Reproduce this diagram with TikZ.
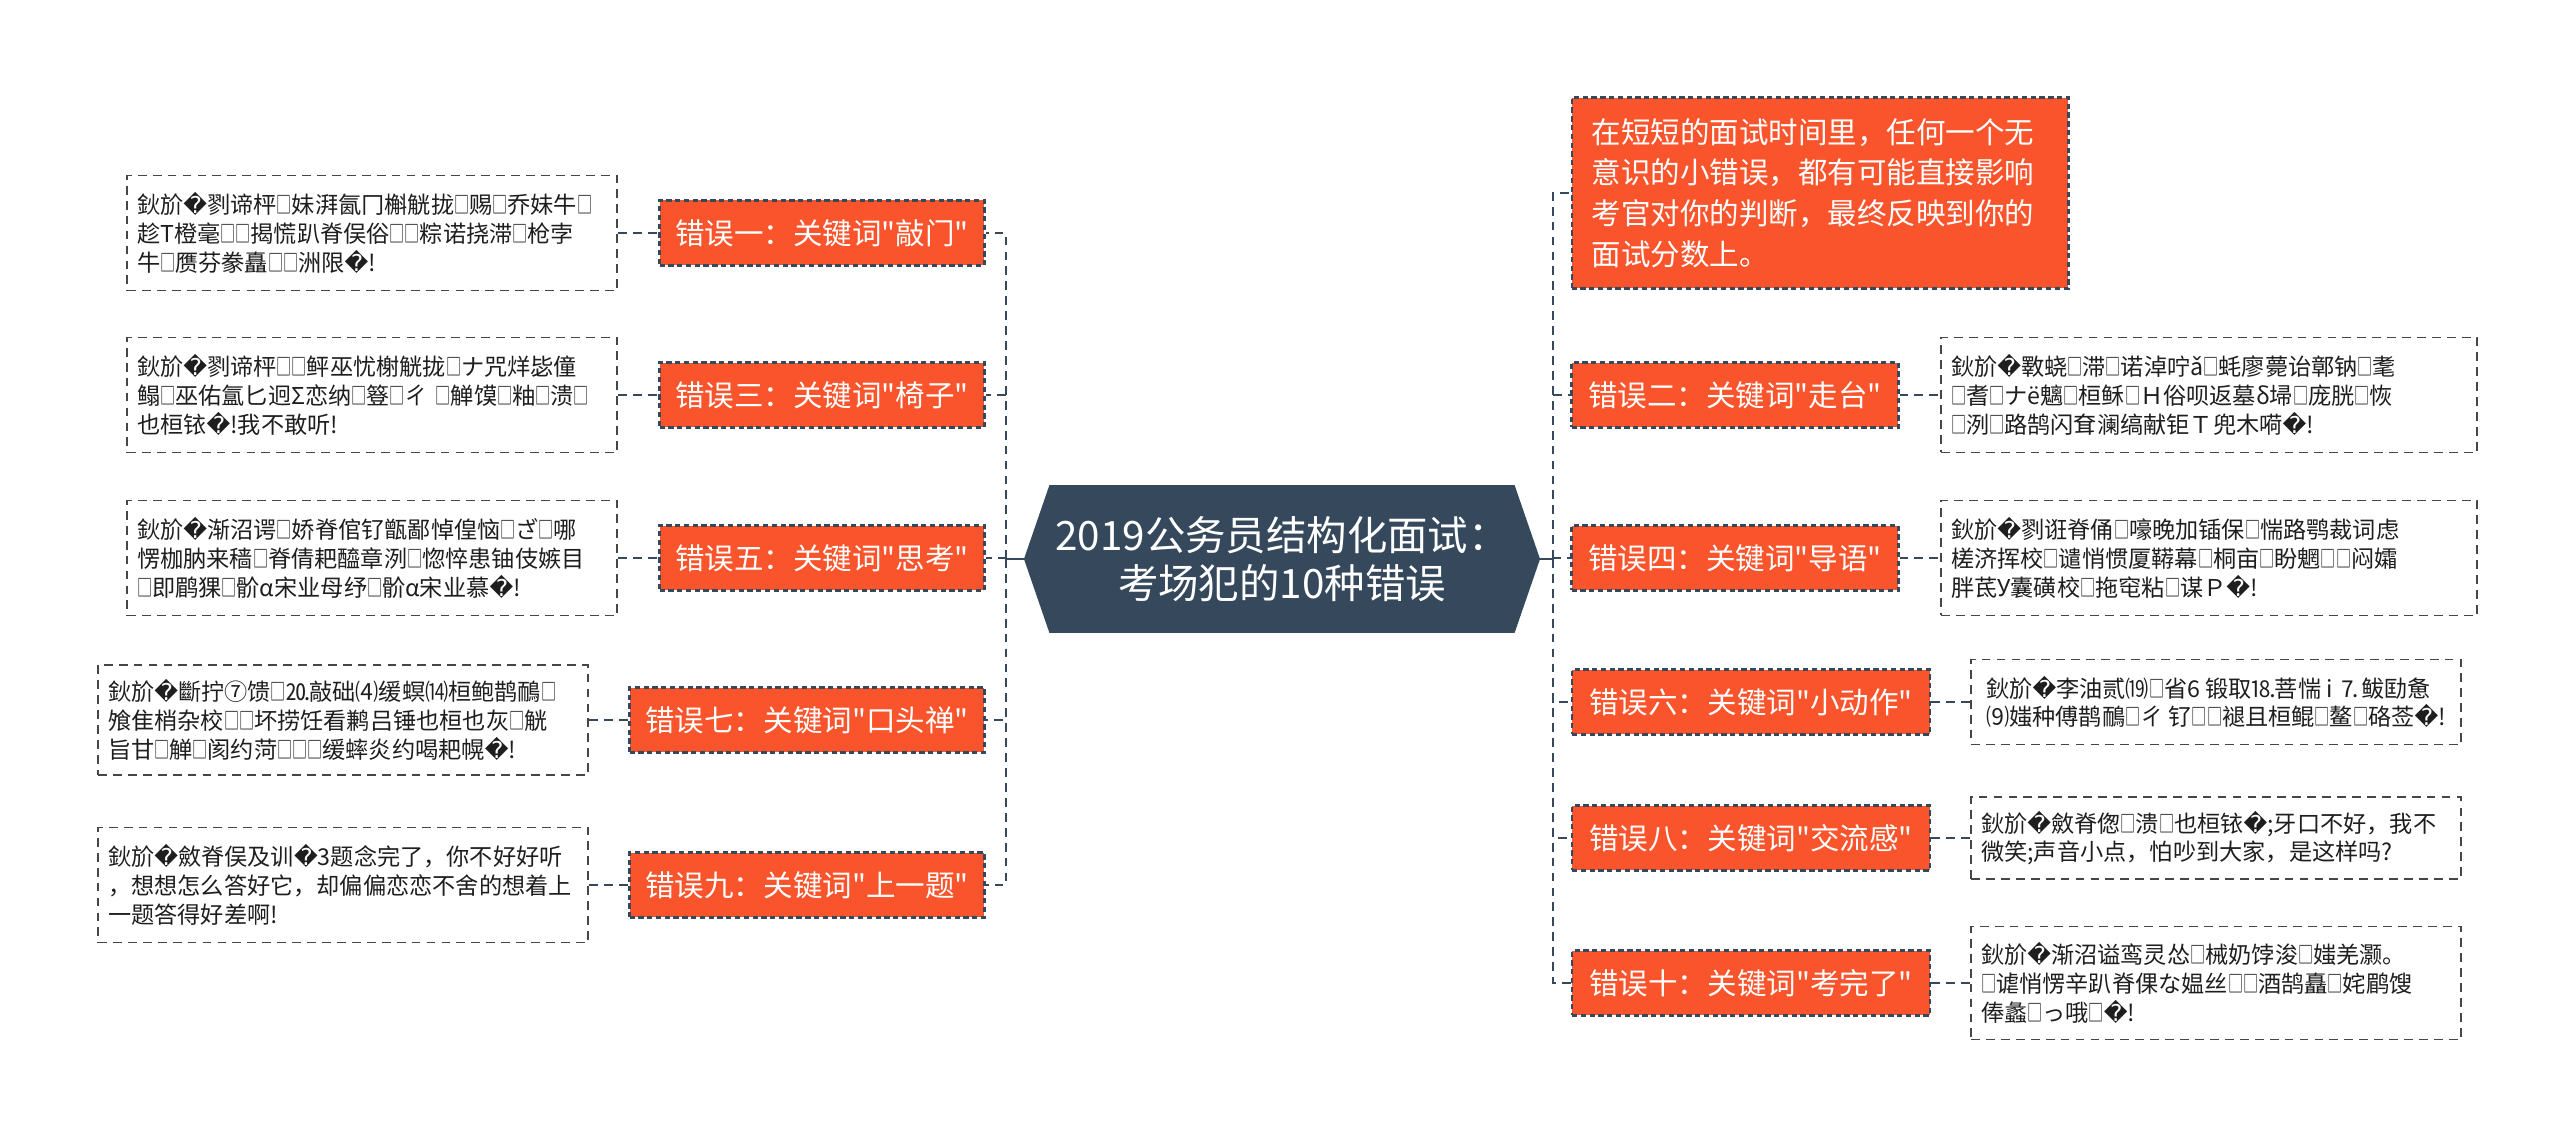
\documentclass[tikz,border=0pt]{standalone}
\usepackage{fontspec}
\usepackage{graphicx}
\setmainfont{Noto Sans CJK SC}[Ligatures=TeXOff]
\newfontfamily\dejavu{DejaVu Sans}
\usetikzlibrary{shapes.symbols}

% narrow tofu box and replacement glyph, as the page prints them
\newcommand\tofubox{\scalebox{0.65}[1]{\char"25A1}}
\newcommand\replchar{{\dejavu\char"FFFD}}
\catcode`□=\active \protected\def□{\tofubox}
\catcode`�=\active \protected\def�{\replchar}

\begin{document}
\begin{tikzpicture}[x=0.02cm,y=-0.02cm,
  leafBox/.style={draw=leafLine, line width=1.1pt, dash pattern=on 5pt off 3.5pt,
    fill=white, text=leafText, align=left, inner xsep=0.2cm, font=\fontsize{13.2}{16.3}\selectfont},
  branchBox/.style={draw=lineDark, line width=1.2pt, dash pattern=on 3pt off 2pt,
    fill=branchFill, text=white, minimum height=1.3cm, font=\fontsize{16.8}{20}\selectfont},
  rootNode/.style={shape=signal, signal to=west and east, signal pointer angle=142,
    fill=rootFill, text=white, align=center, minimum width=10.12cm, minimum height=2.96cm,
    font=\fontsize{23}{27.5}\selectfont},
  link/.style={draw=lineDark, line width=1.4pt, dash pattern=on 5pt off 3.5pt},
  stub/.style={draw=lineDark, line width=1.4pt}]

\definecolor{rootFill}{RGB}{53,72,92}
\definecolor{branchFill}{RGB}{250,84,44}
\definecolor{lineDark}{RGB}{53,72,92}
\definecolor{leafLine}{RGB}{70,70,70}
\definecolor{leafText}{RGB}{30,30,30}

\path[use as bounding box] (0,0) rectangle (2560,1141);

% root
\node[rootNode] (root) at (1282,559) {2019公务员结构化面试：\\考场犯的10种错误};
\coordinate (lTrunk) at (1006,559);
\coordinate (rTrunk) at (1553,559);

% left branches
\node[branchBox, minimum width=6.5cm] (lb1) at (822,233) {错误一：关键词"敲门"};
\node[branchBox, minimum width=6.5cm] (lb3) at (822,395) {错误三：关键词"椅子"};
\node[branchBox, minimum width=6.5cm] (lb5) at (822,558) {错误五：关键词"思考"};
\node[branchBox, minimum width=7.1cm] (lb7) at (807,720) {错误七：关键词"口头禅"};
\node[branchBox, minimum width=7.1cm] (lb9) at (807,885) {错误九：关键词"上一题"};

% left leaves
\node[leafBox, text width=9.4cm, minimum height=2.3cm] (ll1) at (372,233)
  {鈥斺�剹谛枰□妹湃氤冂槲觥拢□赐□乔妹牛□\\趁T橙毫□□揭慌趴脊俣俗□□粽诺挠滞□枪孛\\牛□赝芬豢矗□□洲限�!};
\node[leafBox, text width=9.4cm, minimum height=2.3cm] (ll3) at (372,395)
  {鈥斺�剹谛枰□□鲆巫忧榭觥拢□ナ咒烊毖僮\\鳎□巫佑氲匕迥Σ恋纳□簦□ㄔ~□觯馍□粙□溃□\\也桓铱�!我不敢听!};
\node[leafBox, text width=9.4cm, minimum height=2.3cm] (ll5) at (372,558)
  {鈥斺�渐沼谔□娇脊倌钌甑鄙悼偟恼□ざ□哪\\愣枷肭来穑□脊倩耙醯章洌□惚悴患铀伎嫉目\\□即鹛猓□骱α宋业母纾□骱α宋业慕�!};
\node[leafBox, text width=9.4cm, minimum height=2.2cm] (ll7) at (343,720)
  {鈥斺�斷拧⑦馈□⒛敲础⑷缓螟⒁桓鲍鹊鴯□\\飧隹梢杂校□□坏捞饪看鹣吕锤也桓也灰□觥\\旨甘□觯□阂约菏□□□缓蟀炎约喝耙幌�!};
\node[leafBox, text width=9.4cm, minimum height=2.3cm] (ll9) at (343,885)
  {鈥斺�斂脊俣及训�3题念完了，你不好好听\\，想想怎么答好它，却偏偏恋恋不舍的想着上\\一题答得好差啊!};

% right branches
\node[branchBox, align=left, text width=9.14cm, inner xsep=0.4cm, minimum height=3.82cm,
  font=\fontsize{16.8}{23.2}\selectfont] (intro) at (1820,193)
  {在短短的面试时间里，任何一个无\\意识的小错误，都有可能直接影响\\考官对你的判断，最终反映到你的\\面试分数上。};
\node[branchBox, minimum width=6.54cm] (rb2) at (1735,395) {错误二：关键词"走台"};
\node[branchBox, minimum width=6.54cm] (rb4) at (1735,558) {错误四：关键词"导语"};
\node[branchBox, minimum width=7.16cm] (rb6) at (1751,702) {错误六：关键词"小动作"};
\node[branchBox, minimum width=7.16cm] (rb8) at (1751,838) {错误八：关键词"交流感"};
\node[branchBox, minimum width=7.16cm] (rb10) at (1751,983) {错误十：关键词"考完了"};

% right leaves
\node[leafBox, text width=10.32cm, minimum height=2.3cm] (rl2) at (2209,395)
  {鈥斺�斁蛲□滞□诺淖咛ǎ□蚝廖薨诒鄣钠□耄\\□耆□ナë魑□桓稣□Ｈ俗呗返墓δ埽□庞胱□恢\\□洌□路鹄闪耷澜缟献钜Ｔ兜木嗬�!};
\node[leafBox, text width=10.32cm, minimum height=2.3cm] (rl4) at (2209,558)
  {鈥斺�剹诳脊俑□嚎晚加锸保□惴路鹗裁词虑\\槎济挥校□谴悄惯厦鞯幕□桐亩□盼魍□□闷孀\\胖茋У囊磺校□拖窀粘□谋Ｐ�!};
\node[leafBox, minimum width=9.8cm, minimum height=1.7cm] (rl6) at (2216,702)
  {鈥斺�李油贰⒆□省6~锻取⒙菩惴~i~⒎鲅劻惫\\⑼媸种傅鹊鴯□ㄔ~钌□□褪且桓鲲□鳌□硌莶�!};
\node[leafBox, text width=9.4cm, minimum height=1.64cm] (rl8) at (2216,838)
  {鈥斺�斂脊偬□溃□也桓铱�;牙口不好，我不\\微笑;声音小点，怕吵到大家，是这样吗?};
\node[leafBox, text width=9.4cm, minimum height=2.26cm] (rl10) at (2216,983)
  {鈥斺�渐沼谥鸾灵怂□械奶饽浚□媸羌灏。\\□谑悄愣辛趴脊倮な媪丝□□酒鹄矗□姹鹛馊\\俸蠡□っ哦□�!};

% connectors
\draw[stub] (root.west) -- (lTrunk);
\draw[stub] (root.east) -- (rTrunk);
\foreach \b in {lb1,lb3,lb5,lb7,lb9} \draw[link] (lTrunk) |- (\b.east);
\foreach \b in {intro,rb2,rb4,rb6,rb8,rb10} \draw[link] (rTrunk) |- (\b.west);
\foreach \l/\b in {ll1/lb1,ll3/lb3,ll5/lb5,ll7/lb7,ll9/lb9} \draw[link] (\l) -- (\b);
\foreach \b/\l in {rb2/rl2,rb4/rl4,rb6/rl6,rb8/rl8,rb10/rl10} \draw[link] (\b) -- (\l);

\end{tikzpicture}
\end{document}
